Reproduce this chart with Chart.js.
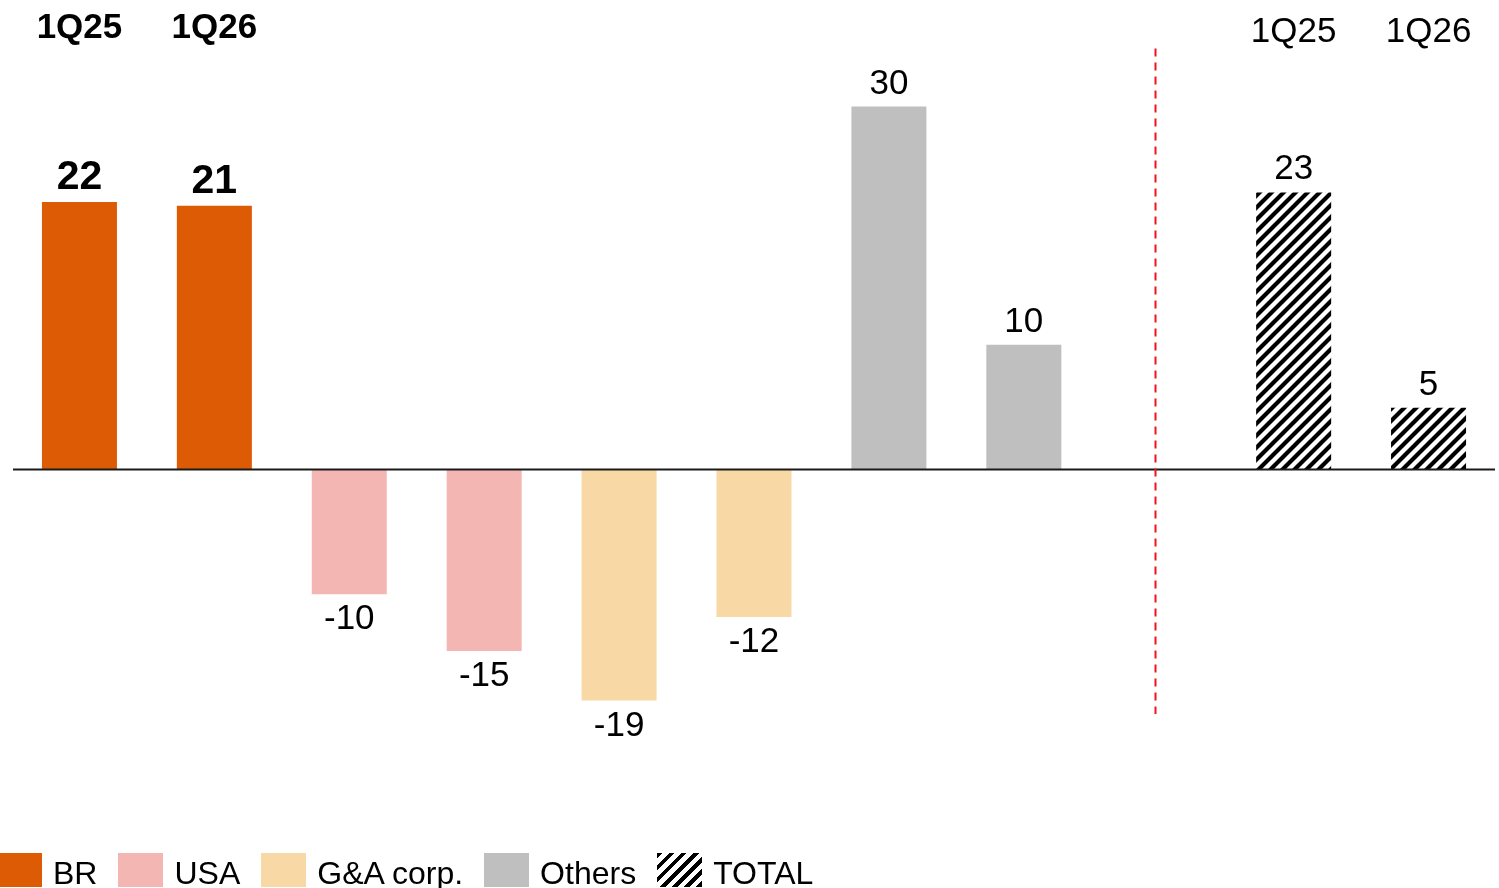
<!DOCTYPE html>
<html lang="en">
<head>
<meta charset="UTF-8" />
<title>Results by segment</title>
<script src="https://cdn.jsdelivr.net/npm/chart.js"></script>
<style>
  html, body { margin: 0; padding: 0; background: #fff; }
  .wrap { position: relative; width: 1499px; height: 888px; overflow: hidden; }
  .legend { position: absolute; left: -3px; top: 853px; display: flex;
            font-family: "Liberation Sans", Arial, sans-serif; font-size: 32px; color: #000; }
  .legend .item { display: flex; align-items: flex-start; margin-right: 21px; }
  .legend .swatch { width: 45px; height: 34px; margin-right: 11px; }
  .legend .text { line-height: 32px; margin-top: 4px; white-space: nowrap; }
</style>
</head>
<body>
<div class="wrap">
  <canvas id="chart"></canvas>
  <div class="legend" id="legend"></div>
</div>

<script>
  // data
  const periods = ['1Q25', '1Q26'];
  const segments = ['BR', 'USA', 'G&A corp.', 'Others', 'TOTAL'];
  const brValues = [22.1, 21.8];
  const usaValues = [-10.3, -15.0];
  const gaValues = [-19.1, -12.2];
  const othersValues = [30.0, 10.3];
  const totalValues = [22.9, 5.1];
  const brLabels = ['22', '21'];
  const usaLabels = ['-10', '-15'];
  const gaLabels = ['-19', '-12'];
  const othersLabels = ['30', '10'];
  const totalLabels = ['23', '5'];

  const colors = ['#DE5B05', '#F4B6B2', '#F8D9A5', '#BFBFBF', null];
  const FONT = '"Liberation Sans", Arial, sans-serif';

  // one slot per bar, with an empty slot before TOTAL
  const slots = [];
  segments.forEach(seg => {
    if (seg === 'TOTAL') slots.push('gap');
    periods.forEach(p => slots.push(seg + ' ' + p));
  });

  function makeHatch() {
    const size = 12;
    const c = document.createElement('canvas');
    c.width = size; c.height = size;
    const g = c.getContext('2d');
    g.fillStyle = '#fff';
    g.fillRect(0, 0, size, size);
    g.strokeStyle = '#000';
    g.lineWidth = 4.2;
    g.beginPath();
    g.moveTo(-2, size + 2); g.lineTo(size + 2, -2);
    g.moveTo(-3, 3); g.lineTo(3, -3);
    g.moveTo(size - 3, size + 3); g.lineTo(size + 3, size - 3);
    g.stroke();
    return g.createPattern(c, 'repeat');
  }
  colors[4] = makeHatch();

  const seriesValues = [brValues, usaValues, gaValues, othersValues, totalValues];
  const seriesLabels = [brLabels, usaLabels, gaLabels, othersLabels, totalLabels];

  const datasets = segments.map((seg, i) => ({
    label: seg,
    data: seriesValues[i].map((v, k) => ({ x: seg + ' ' + periods[k], y: v })),
    backgroundColor: colors[i],
    borderWidth: 0
  }));

  const decor = {
    id: 'decor',
    afterDatasetsDraw(chart) {
      const ctx = chart.ctx;
      const xs = chart.scales.x, ys = chart.scales.y;
      const area = chart.chartArea;
      ctx.save();

      // zero line
      const y0 = ys.getPixelForValue(0);
      ctx.strokeStyle = '#1a1a1a';
      ctx.lineWidth = 2;
      ctx.beginPath();
      ctx.moveTo(area.left + 1, y0);
      ctx.lineTo(area.right - 1, y0);
      ctx.stroke();

      // red dashed divider in the empty slot
      const xd = Math.round(xs.getPixelForValue(slots.indexOf('gap'))) - 3.5;
      ctx.strokeStyle = '#f0141e';
      ctx.setLineDash([8, 6]);
      ctx.beginPath();
      ctx.moveTo(xd, ys.getPixelForValue(34.8));
      ctx.lineTo(xd, ys.getPixelForValue(-20.2));
      ctx.stroke();
      ctx.setLineDash([]);

      // value labels
      ctx.fillStyle = '#000';
      ctx.textAlign = 'center';
      ctx.textBaseline = 'alphabetic';
      chart.data.datasets.forEach((ds, i) => {
        const meta = chart.getDatasetMeta(i);
        meta.data.forEach((bar, k) => {
          const v = ds.data[k].y;
          ctx.font = i === 0 ? 'bold 41px ' + FONT : '35px ' + FONT;
          const ty = v >= 0 ? bar.y - 13 : bar.y + 35;
          ctx.fillText(seriesLabels[i][k], bar.x, ty);
        });
      });

      // period headers above BR and TOTAL
      periods.forEach(p => {
        ctx.font = 'bold 35px ' + FONT;
        ctx.fillText(p, xs.getPixelForValue(slots.indexOf('BR ' + p)), 37.5);
        ctx.font = '35px ' + FONT;
        ctx.fillText(p, xs.getPixelForValue(slots.indexOf('TOTAL ' + p)), 41.5);
      });
      ctx.restore();
    }
  };

  new Chart(document.getElementById('chart'), {
    type: 'bar',
    data: { labels: slots, datasets: datasets },
    options: {
      responsive: true,
      maintainAspectRatio: false,
      animation: false,
      layout: { padding: { left: 12, right: 3, top: 46, bottom: 55.5 } },
      datasets: { bar: { grouped: false, barPercentage: 0.556, categoryPercentage: 1 } },
      plugins: { legend: { display: false }, tooltip: { enabled: false } },
      scales: {
        x: { display: false, offset: true },
        y: { display: false, min: -30, max: 35 }
      }
    },
    plugins: [decor]
  });

  // legend
  const legend = document.getElementById('legend');
  segments.forEach((seg, i) => {
    const item = document.createElement('div');
    item.className = 'item';
    const sw = document.createElement('div');
    sw.className = 'swatch';
    sw.style.background = i === 4
      ? 'repeating-linear-gradient(135deg, #000 0 4.2px, #fff 4.2px 8.5px)'
      : colors[i];
    const tx = document.createElement('span');
    tx.className = 'text';
    tx.textContent = seg;
    item.appendChild(sw);
    item.appendChild(tx);
    legend.appendChild(item);
  });
</script>
</body>
</html>
